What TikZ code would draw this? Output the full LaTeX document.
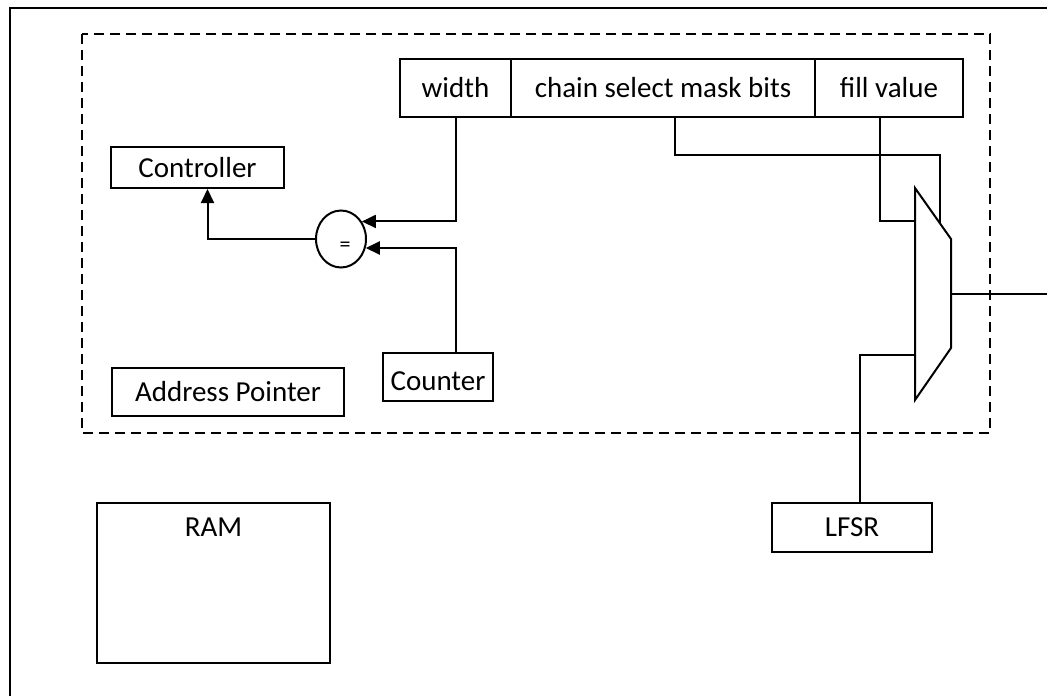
\documentclass[tikz,border=0pt]{standalone}
\usepackage{fontspec}
\setmainfont{Carlito}
\usetikzlibrary{arrows.meta,shapes.geometric,calc}
\begin{document}
\begin{tikzpicture}[x=1pt,y=-1pt,
  every node/.style={font=\fontsize{29}{34}\selectfont},
  box/.style={draw,line width=2pt,inner sep=0pt},
  wire/.style={line width=2pt},
  arr/.style={line width=2pt,-{Triangle[length=14pt,width=13pt]}},
  frame/.style={line width=2.2pt},
  region/.style={line width=2pt,dash pattern=on 10pt off 6pt}]
\useasboundingbox (0,0) rectangle (1047,696);
% outer frame
\draw[frame] (1047,8) -- (10,8) -- (10,696);
% dashed region
\draw[region] (82,34) rectangle (990,433);
% register fields
\node[box,minimum width=111pt,minimum height=58pt] (w) at (455.5,88) {width};
\node[box,minimum width=304pt,minimum height=58pt] (cs) at (663,88) {chain select mask bits};
\node[box,minimum width=148pt,minimum height=58pt] (fv) at (889,88) {fill value};
% blocks
\node[box,minimum width=173pt,minimum height=41pt] (ctrl) at (197.5,167.5) {Controller};
\node[box,minimum width=110pt,minimum height=48pt,text depth=0pt] (cnt) at (438,377) {\raisebox{-9pt}{Counter}};
\node[box,minimum width=232pt,minimum height=48pt] (ap) at (228,392) {Address Pointer};
\node[box,minimum width=233pt,minimum height=160pt,
      label={[anchor=north,yshift=-16pt,inner sep=0pt]north:RAM}] (ram) at (213.5,583) {};
\node[box,minimum width=160pt,minimum height=49pt] (lfsr) at (852,527.5) {LFSR};
% comparator
\node[draw,ellipse,line width=2pt,minimum width=50pt,minimum height=57pt,inner sep=0pt] (cmp) at (341,239) {};
\node[font=\fontsize{22}{26}\selectfont] (eq) at (345,247) {=};
% multiplexer
\coordinate (m1) at (915,188);
\coordinate (m2) at (951,239);
\coordinate (m3) at (951,348);
\coordinate (m4) at (915,400);
\draw[wire,line join=miter] (m1) -- (m2) -- (m3) -- (m4) -- cycle;
\coordinate (mout) at (951,294);
\coordinate (mcs) at (940,223);
\coordinate (mfv) at (915,221);
\coordinate (mlf) at (915,355);
\coordinate (edge) at (1047,294);
% connectors
\draw[arr] (w.south) |- (cmp.40);
\draw[arr] (cnt.north -| w.south) |- (cmp.-20);
\draw[arr] (cmp.west) -| ([xshift=10pt]ctrl.south);
\draw[wire] ([xshift=12pt]cs.south) |- (940,155) -- (mcs);
\draw[wire] ([xshift=-9pt]fv.south) |- (mfv);
\draw[wire] ([xshift=8pt]lfsr.north) |- (mlf);
\draw[wire] (mout) -- (edge);
\end{tikzpicture}
\end{document}
